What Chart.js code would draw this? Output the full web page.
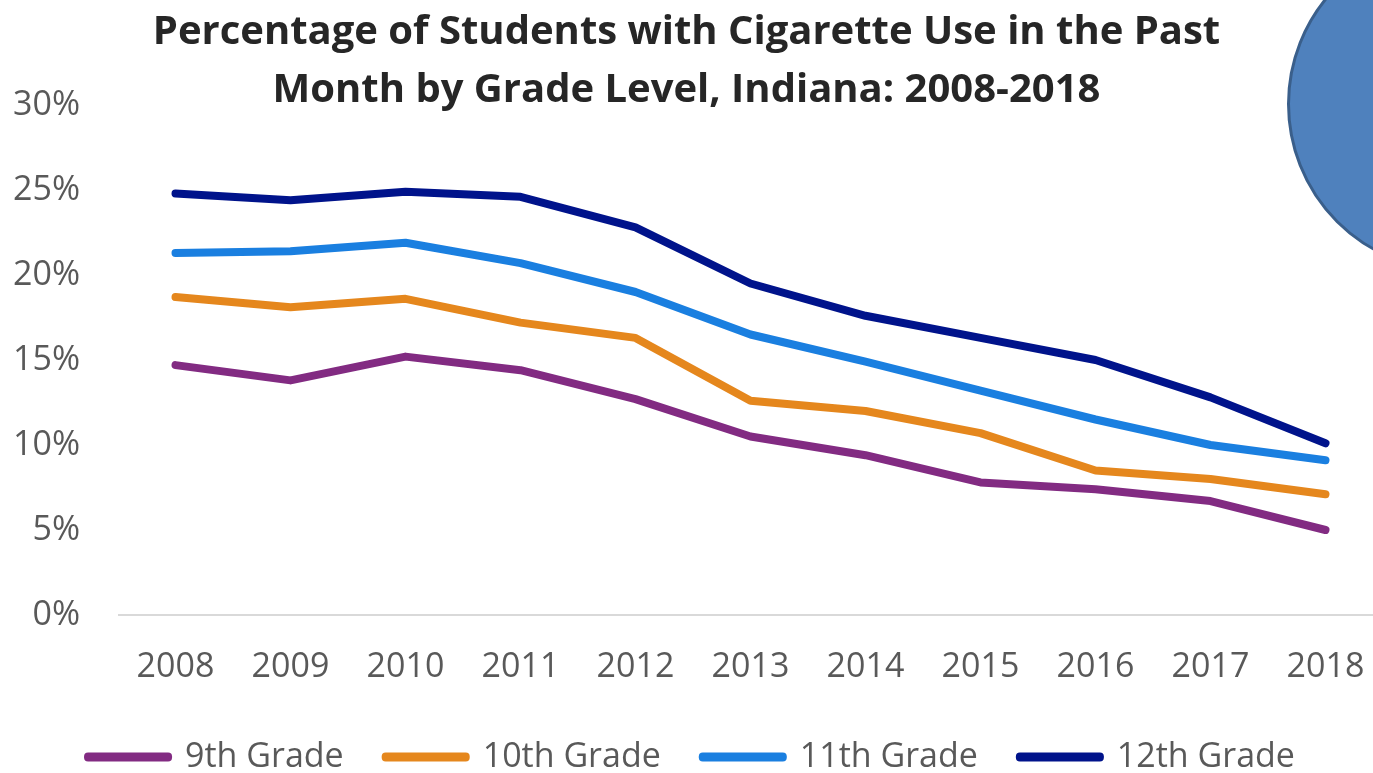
<!DOCTYPE html>
<html>
<head>
<meta charset="utf-8">
<script src="https://cdn.jsdelivr.net/npm/chart.js@4.4.0/dist/chart.umd.min.js"></script>
<style>
    html, body {
        margin: 0;
        padding: 0;
        width: 1373px;
        height: 773px;
        overflow: hidden;
        background: #ffffff;
    }
    #wrap {
        position: absolute;
        left: 0;
        top: 0;
        width: 1390px;
        height: 784px;
    }
    #title {
        position: absolute;
        left: 0;
        top: 0;
        width: 1373px;
        text-align: center;
        font-family: "Open Sans", sans-serif;
        font-weight: 700;
        font-size: 40px;
        line-height: 58px;
        color: #262626;
        z-index: 2;
    }
    #badge {
        position: absolute;
        left: 1287px;
        top: -64px;
        width: 330px;
        height: 330px;
        border-radius: 50%;
        background: #4f81bd;
        border: 3px solid #3a5f8b;
        z-index: 3;
    }
</style>
</head>
<body>
<div id="wrap">
    <canvas id="cigaretteChart" width="1390" height="784"></canvas>
</div>
<div id="title">Percentage of Students with Cigarette Use in the Past<br>Month by Grade Level, Indiana: 2008-2018</div>
<div id="badge"></div>
<script>
const years = ["2008", "2009", "2010", "2011", "2012", "2013", "2014", "2015", "2016", "2017", "2018"];
const grade9 = [14.7, 13.8, 15.2, 14.4, 12.7, 10.5, 9.4, 7.8, 7.4, 6.7, 5.0];
const grade10 = [18.7, 18.1, 18.6, 17.2, 16.3, 12.6, 12.0, 10.7, 8.5, 8.0, 7.1];
const grade11 = [21.3, 21.4, 21.9, 20.7, 19.0, 16.5, 14.9, 13.2, 11.5, 10.0, 9.1];
const grade12 = [24.8, 24.4, 24.9, 24.6, 22.8, 19.5, 17.6, 16.3, 15.0, 12.8, 10.1];
const yTicks = [0, 5, 10, 15, 20, 25, 30];

/**
 *
 */
function _series(label, values, color) {
    return {
        label: label,
        data: values,
        borderColor: color,
        backgroundColor: color,
        borderWidth: 8,
        borderCapStyle: "round",
        borderJoinStyle: "round",
        pointRadius: 0,
        tension: 0,
        fill: false,
    };
}

const data = {
    labels: years,
    datasets: [
        _series("9th Grade", grade9, "#822b82"),
        _series("10th Grade", grade10, "#e5871d"),
        _series("11th Grade", grade11, "#1a7fe0"),
        _series("12th Grade", grade12, "#00138b"),
    ],
};

const config = {
    type: "line",
    data: data,
    options: {
        responsive: false,
        animation: false,
        layout: {
            padding: { top: 105, left: 0, right: 7, bottom: 0 },
        },
        scales: {
            x: {
                offset: true,
                grid: { display: false },
                border: { display: false },
                ticks: {
                    color: "#595959",
                    font: { family: "Open Sans", size: 34 },
                    padding: 24,
                    maxRotation: 0,
                },
                afterFit: (scale) => {
                    scale.height = 83;
                },
            },
            y: {
                min: 0,
                max: 30,
                afterBuildTicks: (scale) => {
                    scale.ticks = yTicks.map((v) => ({ value: v }));
                },
                grid: {
                    drawTicks: false,
                    lineWidth: 2,
                    color: (ctx) =>
                        ctx.tick && ctx.tick.value === 0 ? "#d9d9d9" : "rgba(0,0,0,0)",
                },
                border: { display: false },
                ticks: {
                    color: "#595959",
                    font: { family: "Open Sans", size: 34 },
                    padding: 38,
                    callback: (v) => v + "%",
                },
                afterFit: (scale) => {
                    scale.width = 118;
                },
            },
        },
        plugins: {
            title: { display: false },
            tooltip: { enabled: false },
            legend: {
                position: "bottom",
                labels: {
                    color: "#595959",
                    font: { family: "Open Sans", size: 34 },
                    boxWidth: 80,
                    boxHeight: 1,
                    padding: 42,
                },
            },
        },
    },
};

new Chart(document.getElementById("cigaretteChart"), config);
</script>
</body>
</html>
